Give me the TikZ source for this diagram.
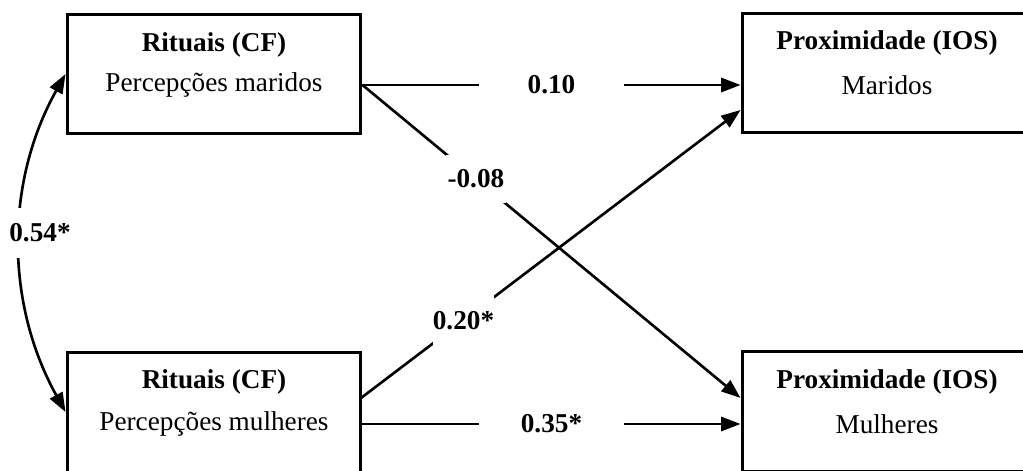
\documentclass[tikz,border=0pt]{standalone}
\usepackage{fontspec}
\setmainfont{Liberation Serif}
\usetikzlibrary{arrows.meta}

\newcommand{\tamanho}{\fontsize{15.5}{18}\selectfont}

\tikzset{
    caixa/.style={draw, line width=1.7pt, minimum width=5.88cm, minimum height=2.4cm, inner sep=0pt},
    seta/.style={-{Triangle[length=11pt,width=8pt]}, line width=1.5pt},
    dupla/.style={{Triangle[length=11pt,width=8pt]}-{Triangle[length=11pt,width=8pt]}, line width=1.5pt},
    coef/.style={fill=white, font=\tamanho\bfseries, inner sep=0pt},
}

\begin{document}
\begin{tikzpicture}[x=0.02cm, y=-0.02cm, font=\tamanho]

            \useasboundingbox (0,0) rectangle (1023,470);

            \node[caixa] (rm) at (214,74) {};
            \node[caixa] (rw) at (214,412) {};
            \node[caixa] (pm) at (889,73) {};
            \node[caixa] (pw) at (889,411) {};

            \node[] (rmt) at (214,45) {\textbf{Rituais (CF)}};
            \node[] (rms) at (214,85) {Percepções maridos};
            \node[] (rwt) at (214,382) {\textbf{Rituais (CF)}};
            \node[] (rws) at (214,424) {Percepções mulheres};
            \node[] (pmt) at (887,43) {\textbf{Proximidade (IOS)}};
            \node[] (pms) at (887,85) {Maridos};
            \node[] (pwt) at (887,382) {\textbf{Proximidade (IOS)}};
            \node[] (pws) at (887,424) {Mulheres};

            \coordinate (rmout) at (rm.east |- rms);
            \coordinate (rwout) at (rw.east |- rws);
            \coordinate (rwdia) at (361,398);
            \coordinate (pmdia) at (pm.west |- 0,110);
            \coordinate (pwdia) at (pw.west |- 0,398);

            \draw[seta] (rmout) -- (pm.west |- rms)
                node[coef, pos=0.5, minimum width=2.9cm] {0.10};
            \draw[seta] (rwout) -- (pw.west |- rws)
                node[coef, pos=0.5, minimum width=2.9cm] {0.35*};
            \draw[seta] (rmout) -- (pwdia)
                node[coef, pos=0.3, minimum width=1.2cm, minimum height=0.95cm] {-0.08};
            \draw[seta] (rwdia) -- (pmdia)
                node[coef, pos=0.27, minimum width=1.2cm, minimum height=1cm] {0.20*};
            \draw[dupla] (rm.west) .. controls (5,182) and (5,303) .. (rw.west);
            \node[coef, minimum height=1cm] (cor) at (40,233) {0.54*};
        \end{tikzpicture}
\end{document}
